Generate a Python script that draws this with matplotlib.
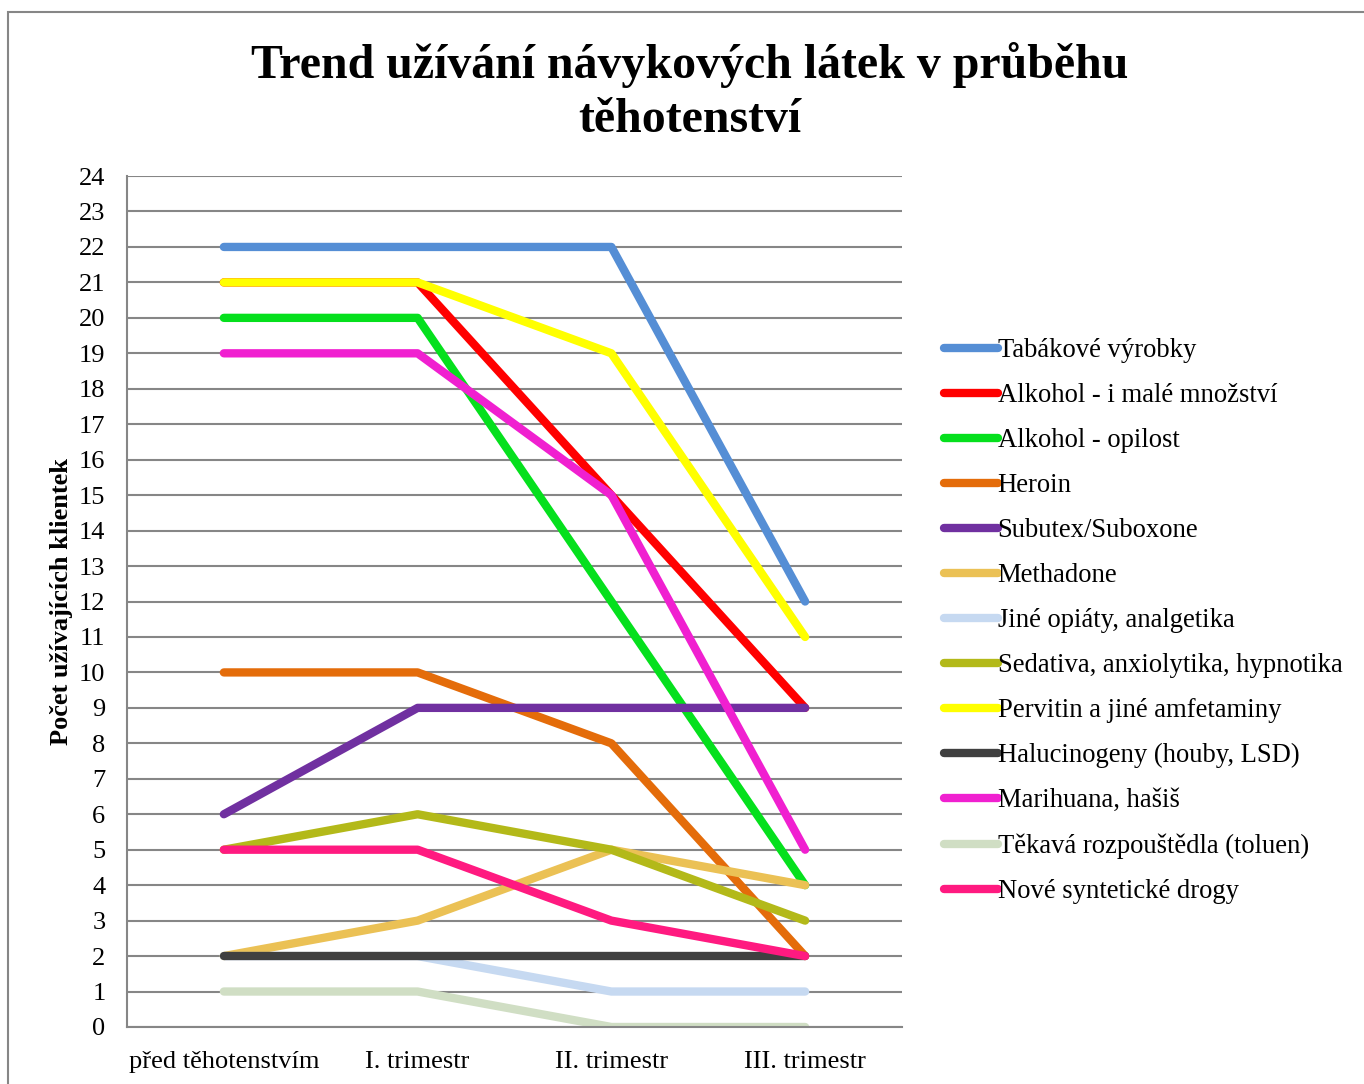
import matplotlib.pyplot as plt
from matplotlib.patches import Rectangle

plt.rcParams['font.family'] = ['Liberation Serif', 'DejaVu Serif']

# data
obdobi = ['před těhotenstvím', 'I. trimestr', 'II. trimestr', 'III. trimestr']

tabak = [22, 22, 22, 12]
alkohol_male = [21, 21, 15, 9]
alkohol_opilost = [20, 20, 12, 4]
heroin = [10, 10, 8, 2]
subutex = [6, 9, 9, 9]
methadone = [2, 3, 5, 4]
jine_opiaty = [2, 2, 1, 1]
sedativa = [5, 6, 5, 3]
pervitin = [21, 21, 19, 11]
halucinogeny = [2, 2, 2, 2]
marihuana = [19, 19, 15, 5]
tekava = [1, 1, 0, 0]
nove_drogy = [5, 5, 3, 2]

serie = [
    ('Tabákové výrobky', tabak, '#558ED5'),
    ('Alkohol - i malé množství', alkohol_male, '#FF0000'),
    ('Alkohol - opilost', alkohol_opilost, '#05E01D'),
    ('Heroin', heroin, '#E46C0A'),
    ('Subutex/Suboxone', subutex, '#7030A0'),
    ('Methadone', methadone, '#EBC155'),
    ('Jiné opiáty, analgetika', jine_opiaty, '#C6D9F1'),
    ('Sedativa, anxiolytika, hypnotika', sedativa, '#B3B919'),
    ('Pervitin a jiné amfetaminy', pervitin, '#FFFF00'),
    ('Halucinogeny (houby, LSD)', halucinogeny, '#404040'),
    ('Marihuana, hašiš', marihuana, '#F020D0'),
    ('Těkavá rozpouštědla (toluen)', tekava, '#D0DEC4'),
    ('Nové syntetické drogy', nove_drogy, '#FF1A80'),
]

fig = plt.figure(figsize=(13.64, 10.84), dpi=100)
ax = fig.add_axes([0.0931, 0.0526, 0.5682, 0.785])

x = list(range(len(obdobi)))
for nazev, hodnoty, barva in serie:
    ax.plot(x, hodnoty, color=barva, lw=6, solid_capstyle='round',
            solid_joinstyle='round', label=nazev)

ax.set_xlim(-0.5, 3.5)
ax.set_ylim(0, 24)
ax.set_yticks(range(0, 25))
ax.set_xticks(x)
ax.set_xticklabels(obdobi)
ax.tick_params(axis='both', length=0, labelsize=19)
ax.tick_params(axis='y', pad=15.5)
ax.tick_params(axis='x', pad=17)
ax.yaxis.grid(True, color='#868686', lw=1.5)
ax.set_axisbelow(True)
for s in ['top', 'right']:
    ax.spines[s].set_visible(False)
for s in ['left', 'bottom']:
    ax.spines[s].set_color('#868686')
    ax.spines[s].set_linewidth(1.5)

ax.set_ylabel('Počet užívajících klientek', fontsize=19, fontweight='bold', labelpad=4)

fig.text(0.506, 0.915, 'Trend užívání návykových látek v průběhu\ntěhotenství',
         ha='center', va='center', fontsize=34.5, fontweight='bold', linespacing=1.3)

leg = fig.legend(loc='upper left', bbox_to_anchor=(0.6845, 0.6978), frameon=False,
                 fontsize=19.2, handlelength=2.0, handletextpad=0.0,
                 labelspacing=0.75, borderaxespad=0)

# outer chart border
fig.patches.append(Rectangle((8 / 1364, -0.01), 1.02, 1 - 12 / 1084 + 0.01,
                             transform=fig.transFigure, fill=False,
                             edgecolor='#868686', lw=1.5))

fig.savefig('out.png', dpi=100)
